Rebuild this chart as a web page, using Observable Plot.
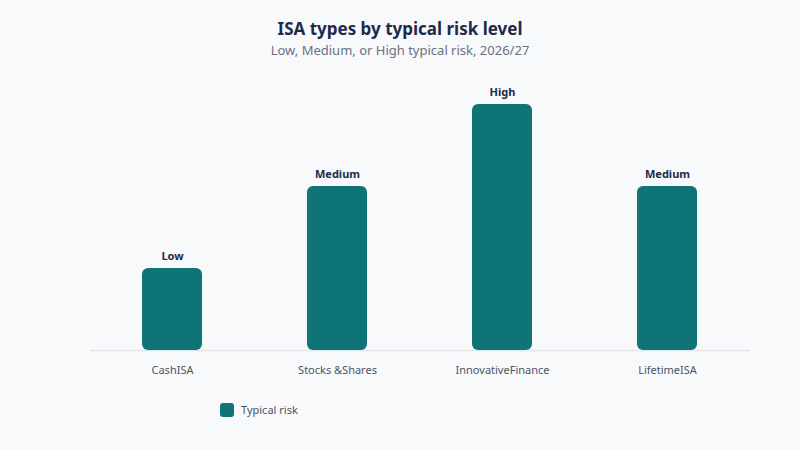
<!DOCTYPE html>
<html>
<head>
<meta charset="utf-8">
<script src="https://cdn.jsdelivr.net/npm/d3@7"></script>
<script src="https://cdn.jsdelivr.net/npm/@observablehq/plot@0.6"></script>
<style>
  html, body { margin: 0; padding: 0; background: #f8f9fb; }
  #wrap { position: relative; width: 800px; height: 450px; background: #f8f9fb; font-family: "Noto Sans", "Open Sans", sans-serif; overflow: hidden; }
  #title { position: absolute; top: 17px; left: 0; width: 800px; text-align: center; font-size: 17px; font-weight: 700; color: #1f2a4a; }
  #subtitle { position: absolute; top: 41px; left: 0; width: 800px; text-align: center; font-size: 13px; color: #6b7280; }
  #chart { position: absolute; top: 70px; left: 0; }
  #legend { position: absolute; top: 402px; left: 220px; display: flex; align-items: center; font-size: 11px; color: #4b5563; }
  #legend .sw { width: 14px; height: 14px; border-radius: 3px; background: #0e7475; margin-right: 7px; }
</style>
</head>
<body>
<div id="wrap">
  <div id="title">ISA types by typical risk level</div>
  <div id="subtitle">Low, Medium, or High typical risk, 2026/27</div>
  <div id="chart"></div>
  <div id="legend"><div class="sw"></div><span>Typical risk</span></div>
</div>
<script>
const categories = ["CashISA", "Stocks &Shares", "InnovativeFinance", "LifetimeISA"];
const riskValues = [1, 2, 3, 2];
const riskLabels = ["Low", "Medium", "High", "Medium"];
const seriesName = "Typical risk";

const data = categories.map((c, i) => ({category: c, value: riskValues[i], label: riskLabels[i]}));

const chart = Plot.plot({
  width: 800,
  height: 320,
  marginLeft: 90,
  marginRight: 50,
  marginTop: 34,
  marginBottom: 40,
  style: { background: "transparent", fontFamily: "Noto Sans, Open Sans, sans-serif", fontSize: "11px" },
  x: { domain: categories, paddingInner: 0.636, paddingOuter: 0.318, label: null },
  y: { domain: [0, 3], axis: null },
  marks: [
    Plot.ruleY([0], { stroke: "#e3e5ea", strokeWidth: 1.5 }),
    Plot.barY(data, { x: "category", y: "value", fill: "#0e7475", rx: 6 }),
    Plot.text(data, { x: "category", y: "value", text: "label", dy: -12, fontWeight: "bold", fontSize: 11, fill: "#1f2a4a" }),
    Plot.axisX({ tickSize: 0, tickPadding: 16, fontSize: 11, color: "#4b5563" })
  ]
});
document.getElementById("chart").appendChild(chart);
</script>
</body>
</html>
